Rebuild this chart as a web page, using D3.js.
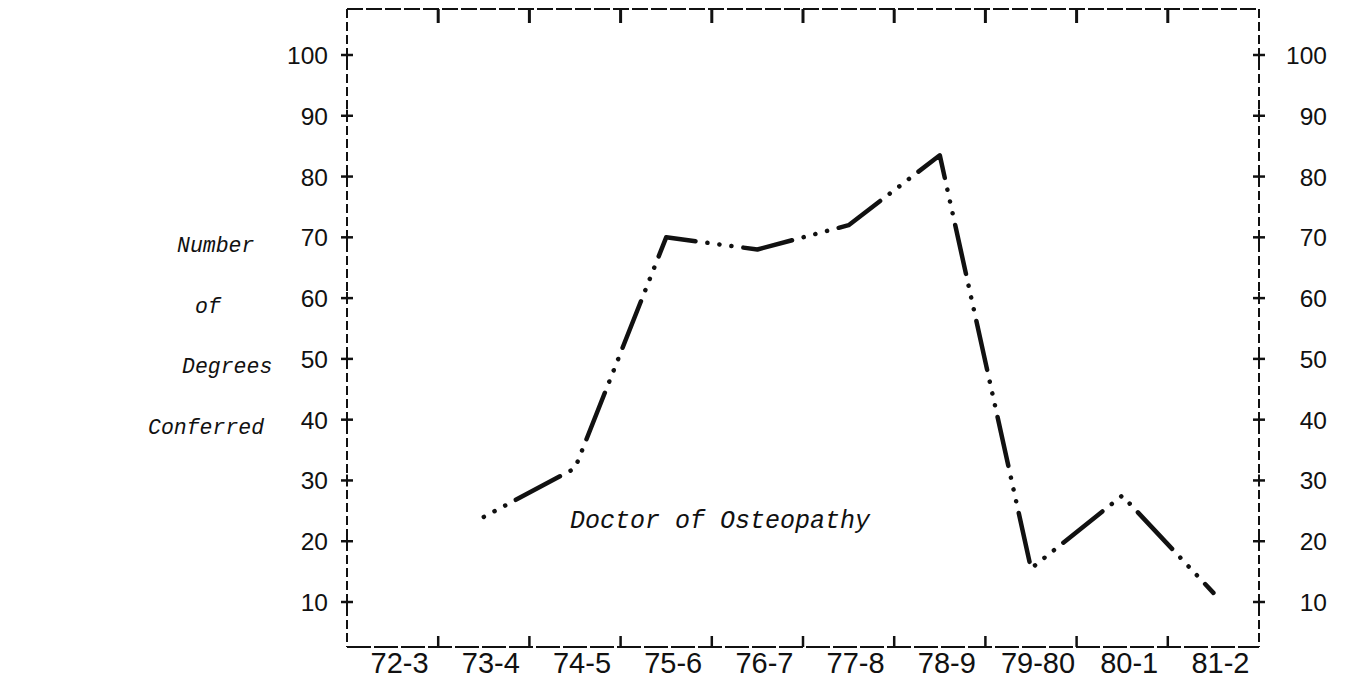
<!DOCTYPE html>
<html>
<head>
<meta charset="utf-8">
<script src="https://cdn.jsdelivr.net/npm/d3@7"></script>
<style>
  html, body { margin: 0; padding: 0; background: #fff; }
  svg { display: block; }
  .num { font-family: "Liberation Sans", Arial, sans-serif; fill: #111; }
  .mono { font-family: "Liberation Mono", "DejaVu Sans Mono", monospace; font-style: italic; fill: #111; }
</style>
</head>
<body>
<div id="chart"></div>
<script>
// data
const categories = ["72-3", "73-4", "74-5", "75-6", "76-7", "77-8", "78-9", "79-80", "80-1", "81-2"];
const degrees = [null, 24, 32, 70, 68, 72, 83.5, 15.5, 27.5, 11.5];
const yTickValues = [10, 20, 30, 40, 50, 60, 70, 80, 90, 100];
const yTitleLines = ["Number", "of", "Degrees", "Conferred"];
const seriesLabel = "Doctor of Osteopathy";

const width = 1347, height = 682;
const plotLeft = 347, plotRight = 1259, plotTop = 9, plotBottom = 647;

const svg = d3.select("#chart").append("svg")
    .attr("width", width)
    .attr("height", height);

const x = d3.scaleBand().domain(categories).range([plotLeft, plotRight]);
const y = d3.scaleLinear().domain([10, 100]).range([602, 55]);
const cx = c => x(c) + x.bandwidth() / 2;

// frame (dashed, plotter style)
const frame = svg.append("g").attr("stroke", "#111").attr("fill", "none");
frame.append("line").attr("x1", plotLeft).attr("x2", plotRight).attr("y1", plotTop).attr("y2", plotTop)
    .attr("stroke-width", 2).attr("stroke-dasharray", "16 3");
frame.append("line").attr("x1", plotLeft).attr("x2", plotRight).attr("y1", plotBottom).attr("y2", plotBottom)
    .attr("stroke-width", 2).attr("stroke-dasharray", "24 3");
frame.append("line").attr("x1", plotLeft).attr("x2", plotLeft).attr("y1", plotTop).attr("y2", plotBottom)
    .attr("stroke-width", 2).attr("stroke-dasharray", "9 4");
frame.append("line").attr("x1", plotRight).attr("x2", plotRight).attr("y1", plotTop).attr("y2", plotBottom)
    .attr("stroke-width", 2).attr("stroke-dasharray", "9 4");

// x ticks on band edges, top and bottom
const edges = categories.slice(1);
svg.append("g").selectAll("line").data(edges).join("line")
    .attr("x1", d => x(d)).attr("x2", d => x(d))
    .attr("y1", plotTop).attr("y2", plotTop + 14)
    .attr("stroke", "#111").attr("stroke-width", 3);
svg.append("g").selectAll("line").data(edges).join("line")
    .attr("x1", d => x(d)).attr("x2", d => x(d))
    .attr("y1", plotBottom).attr("y2", plotBottom - 11)
    .attr("stroke", "#111").attr("stroke-width", 2.5);

svg.append("g").selectAll("text").data(categories).join("text")
    .attr("class", "num")
    .attr("x", d => cx(d) + 7)
    .attr("y", 673)
    .attr("text-anchor", "middle")
    .attr("font-size", 29)
    .text(d => d);

// y ticks, both sides
[plotLeft, plotRight].forEach(ax => {
  const g = svg.append("g").attr("stroke", "#111");
  g.selectAll("line.h").data(yTickValues).join("line").attr("class", "h")
      .attr("x1", ax - 6).attr("x2", ax + 6)
      .attr("y1", d => y(d)).attr("y2", d => y(d))
      .attr("stroke-width", 2.5);
  g.selectAll("line.v").data(yTickValues).join("line").attr("class", "v")
      .attr("x1", ax).attr("x2", ax)
      .attr("y1", d => y(d) - 6).attr("y2", d => y(d) + 6)
      .attr("stroke-width", 2);
});

svg.append("g").selectAll("text").data(yTickValues).join("text")
    .attr("class", "num")
    .attr("x", 328).attr("y", d => y(d) + 9)
    .attr("text-anchor", "end").attr("font-size", 24.5)
    .text(d => d);
svg.append("g").selectAll("text").data(yTickValues).join("text")
    .attr("class", "num")
    .attr("x", 1327).attr("y", d => y(d) + 9)
    .attr("text-anchor", "end").attr("font-size", 24.5)
    .text(d => d);

// y title, stacked
const titleX = [177, 195, 182, 148];
svg.append("g").selectAll("text").data(yTitleLines).join("text")
    .attr("class", "mono")
    .attr("x", (d, i) => titleX[i])
    .attr("y", (d, i) => 252 + i * 60.5)
    .attr("font-size", 21.5)
    .text(d => d);

// series line, dash-dot-dot-dot
const pts = categories.map((c, i) => ({c: c, v: degrees[i]}));
const line = d3.line()
    .defined(d => d.v != null)
    .x(d => cx(d.c))
    .y(d => y(d.v));

svg.append("path")
    .datum(pts)
    .attr("d", line)
    .attr("fill", "none")
    .attr("stroke", "#111")
    .attr("stroke-width", 4.5)
    .attr("stroke-linecap", "round")
    .attr("stroke-linejoin", "round")
    .attr("stroke-dasharray", "0.1 12 0.1 12 0.1 12 50 12");

svg.append("text")
    .attr("class", "mono")
    .attr("x", 570).attr("y", 528)
    .attr("font-size", 25)
    .text(seriesLabel);
</script>
</body>
</html>
